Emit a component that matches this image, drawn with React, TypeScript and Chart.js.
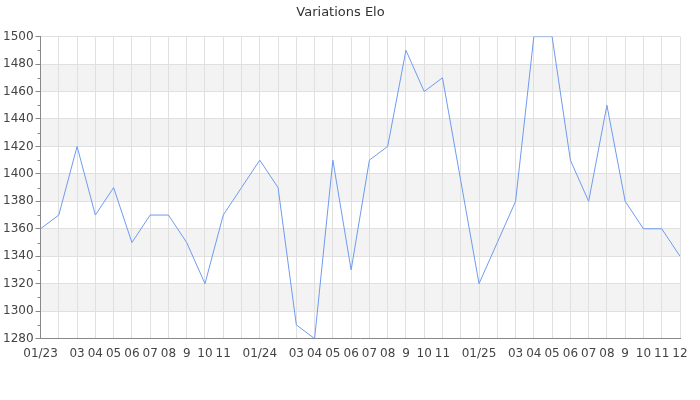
import React, { useEffect, useRef } from "react";
import { Chart, registerables } from "chart.js";

Chart.register(...registerables);

const xLabels = [
  "01/23", "02", "03", "04", "05", "06", "07", "08", "9", "10", "11", "12",
  "01/24", "02", "03", "04", "05", "06", "07", "08", "9", "10", "11", "12",
  "01/25", "02", "03", "04", "05", "06", "07", "08", "9", "10", "11", "12",
];

const elo2023 = [1360, 1370, 1420, 1370, 1390, 1350, 1370, 1370, 1350, 1320, 1370, 1390];
const elo2024 = [1410, 1390, 1290, 1280, 1410, 1330, 1410, 1420, 1490, 1460, 1470, 1395];
const elo2025 = [1320, 1350, 1380, 1500, 1500, 1410, 1380, 1450, 1380, 1360, 1360, 1340];

const yMin = 1280;
const yMax = 1500;
const yStep = 20;
const grayBands = [
  [1300, 1320],
  [1340, 1360],
  [1380, 1400],
  [1420, 1440],
  [1460, 1480],
];

const FONT = "'DejaVu Sans', sans-serif";

const bandsPlugin = {
  id: "bands",
  beforeDraw(chart: any) {
    const { ctx, chartArea, scales } = chart;
    const y = scales.y;
    ctx.save();
    ctx.fillStyle = "#f3f3f3";
    for (const [a, b] of grayBands) {
      const top = y.getPixelForValue(b);
      const bot = y.getPixelForValue(a);
      ctx.fillRect(chartArea.left, top, chartArea.right - chartArea.left, bot - top);
    }
    ctx.restore();
  },
  afterDraw(chart: any) {
    const { ctx, scales } = chart;
    const y = scales.y;
    ctx.save();
    ctx.strokeStyle = "#888";
    ctx.lineWidth = 1;
    for (let v = yMin + yStep / 2; v < yMax; v += yStep) {
      const py = Math.round(y.getPixelForValue(v)) + 0.5;
      ctx.beginPath();
      ctx.moveTo(y.right - 3, py);
      ctx.lineTo(y.right, py);
      ctx.stroke();
    }
    ctx.restore();
  },
};

export default function App() {
  const ref = useRef<HTMLCanvasElement>(null);
  useEffect(() => {
    document.body.style.margin = "0";
    const data = [...elo2023, ...elo2024, ...elo2025];
    const chart = new Chart(ref.current!, {
      type: "line",
      data: {
        labels: xLabels,
        datasets: [
          {
            label: "Elo",
            data,
            borderColor: "#6e9bf0",
            borderWidth: 1,
            pointRadius: 0,
            tension: 0,
            fill: false,
          },
        ],
      },
      options: {
        animation: false,
        responsive: false,
        maintainAspectRatio: false,
        layout: { padding: { left: 1, right: 20, top: 0, bottom: 31 } },
        plugins: {
          legend: { display: false },
          tooltip: { enabled: false },
          title: {
            display: true,
            text: "Variations Elo",
            color: "#333",
            font: { family: FONT, size: 13, weight: "normal" },
            padding: { top: 5, bottom: 16 },
          },
        },
        scales: {
          x: {
            offset: false,
            grid: { color: "#e0e0e0", drawTicks: false },
            border: { color: "#888" },
            ticks: {
              autoSkip: false,
              maxRotation: 0,
              minRotation: 0,
              padding: 8,
              color: "#444",
              font: { family: FONT, size: 12 },
              callback: (_v: any, i: number) => {
                const prev = xLabels[i - 1] || "";
                const next = xLabels[i + 1] || "";
                if (prev.includes("/") || next.includes("/")) return "";
                return xLabels[i];
              },
            },
          },
          y: {
            min: yMin,
            max: yMax,
            grid: { color: "#e0e0e0", tickColor: "#888", tickLength: 5 },
            border: { color: "#888" },
            ticks: {
              stepSize: yStep,
              padding: 2,
              color: "#444",
              font: { family: FONT, size: 12 },
              callback: (v: any) => String(v),
            },
          },
        },
      },
      plugins: [bandsPlugin],
    });
    return () => chart.destroy();
  }, []);
  return <canvas ref={ref} width={700} height={400} style={{ display: "block" }} />;
}
